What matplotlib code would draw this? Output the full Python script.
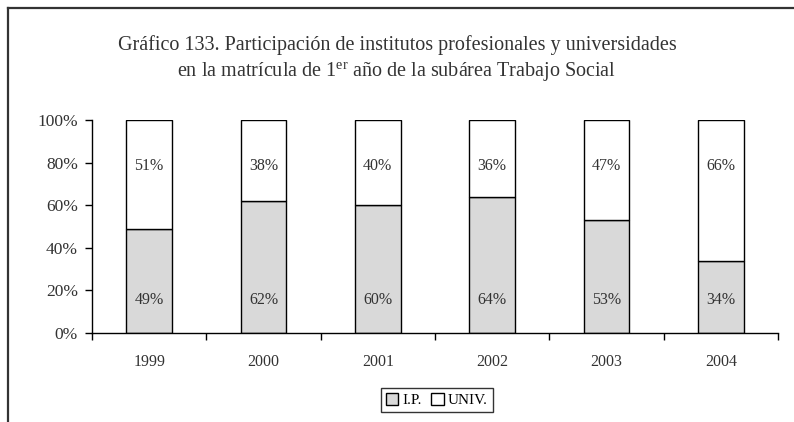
import numpy as np
import matplotlib.pyplot as plt
from matplotlib.lines import Line2D
from matplotlib.patches import Patch
from matplotlib.ticker import FixedLocator, PercentFormatter

plt.rcParams['font.family'] = ['Liberation Serif', 'DejaVu Serif']
plt.rcParams['mathtext.fontset'] = 'custom'
plt.rcParams['mathtext.rm'] = 'Liberation Serif'

years = ['1999', '2000', '2001', '2002', '2003', '2004']
ip = [49, 62, 60, 64, 53, 34]
univ = [51, 38, 40, 36, 47, 66]

title = ('Gráfico 133. Participación de institutos profesionales y universidades\n'
         'en la matrícula de 1$^{\\mathrm{er}}$ año de la subárea Trabajo Social')

fig = plt.figure(figsize=(7.94, 4.22), dpi=100)
ax = fig.add_axes([92 / 794, 89 / 422, 686 / 794, 213 / 422])

x = np.arange(len(years))
w = 0.40
gray = '#d9d9d9'
ax.bar(x, ip, w, color=gray, edgecolor='black', linewidth=1)
ax.bar(x, univ, w, bottom=ip, color='white', edgecolor='black', linewidth=1)

# value labels inside each segment
for i in x:
    ax.text(i, 15.5, f'{ip[i]}%', ha='center', va='center', fontsize=11.5, color='#333333')
    ax.text(i, 78.5, f'{univ[i]}%', ha='center', va='center', fontsize=11.5, color='#333333')

ax.set_xlim(-0.5, len(years) - 0.5)
ax.set_ylim(0, 100)
ax.set_yticks(np.arange(0, 101, 20))
ax.yaxis.set_major_formatter(PercentFormatter(decimals=0))
ax.set_xticks(x)
ax.set_xticklabels(years)
ax.xaxis.set_minor_locator(FixedLocator(np.arange(-0.5, len(years), 1.0)))
ax.tick_params(axis='x', which='major', length=0, pad=15, labelsize=11.5, labelcolor='#333333')
ax.tick_params(axis='x', which='minor', length=5, width=1, direction='out')
ax.tick_params(axis='y', length=5, width=1, direction='out', pad=5, labelsize=12.5, labelcolor='#333333')
for side in ['top', 'right']:
    ax.spines[side].set_visible(False)
for side in ['left', 'bottom']:
    ax.spines[side].set_linewidth(1)

fig.text(0.5, 0.917, title, ha='center', va='top', fontsize=14.5, color='#333333',
         linespacing=1.35)

handles = [Patch(facecolor=gray, edgecolor='black', label='I.P.'),
           Patch(facecolor='white', edgecolor='black', label='UNIV.')]
leg = fig.legend(handles=handles, loc='center', bbox_to_anchor=(437 / 794, 1 - 400 / 422),
                 ncol=2, fontsize=11, frameon=True, fancybox=False, edgecolor='black',
                 handlelength=0.8, handleheight=0.8, handletextpad=0.3, columnspacing=0.6,
                 borderpad=0.3, borderaxespad=0)
leg.get_frame().set_linewidth(1)

# outer frame: top and left edges
fig.add_artist(Line2D([8 / 794, 8 / 794], [0, 1 - 8 / 422], color='#333333', linewidth=1.6))
fig.add_artist(Line2D([8 / 794, 1], [1 - 8 / 422, 1 - 8 / 422], color='#333333', linewidth=1.6))

fig.savefig('out.png', dpi=100)
